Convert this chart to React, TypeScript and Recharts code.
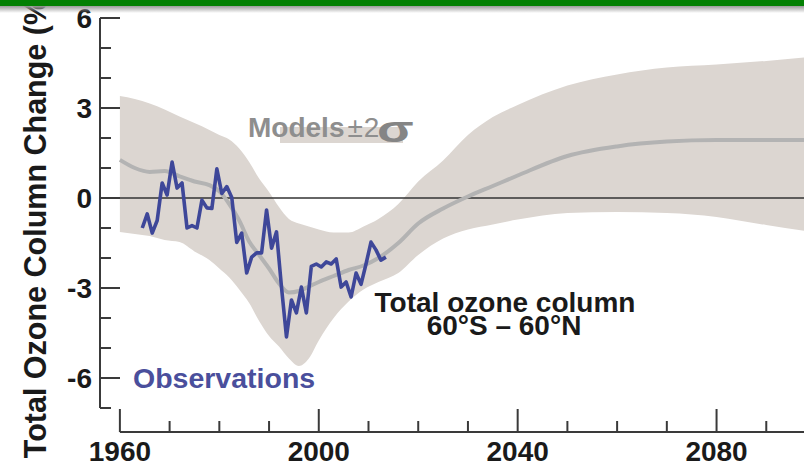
import React from "react";
import { Area, ComposedChart, Line, ReferenceLine, XAxis, YAxis } from "recharts";

// model ensemble: mean and +-2 sigma envelope (% change)
const modelYears = [1960, 1963, 1966, 1969, 1972, 1975, 1978, 1980, 1982, 1984, 1986, 1988, 1990, 1992, 1994, 1996, 1998, 2000, 2003, 2006, 2009, 2012, 2016, 2020, 2025, 2030, 2035, 2040, 2050, 2060, 2070, 2080, 2090, 2100];
const modelMean = [1.27, 1.0, 0.87, 0.9, 0.72, 0.55, 0.43, 0.22, -0.2, -0.75, -1.45, -1.9, -2.35, -2.85, -3.15, -3.1, -2.95, -2.8, -2.6, -2.4, -2.25, -2.0, -1.5, -0.85, -0.35, 0.05, 0.4, 0.75, 1.4, 1.72, 1.88, 1.93, 1.93, 1.93];
const modelLow = [-1.13, -1.2, -1.27, -1.4, -1.47, -1.78, -2.07, -2.35, -2.65, -3.05, -3.5, -4.1, -4.6, -4.95, -5.35, -5.6, -5.35, -4.75, -4.0, -3.45, -3.05, -2.8, -2.5, -1.9, -1.35, -1.05, -0.88, -0.72, -0.5, -0.47, -0.5, -0.63, -0.9, -1.15];
const modelHigh = [3.4, 3.3, 3.15, 2.95, 2.72, 2.5, 2.27, 2.1, 1.95, 1.65, 1.2, 0.65, 0.2, -0.3, -0.7, -0.85, -0.95, -1.05, -1.15, -1.15, -0.95, -0.7, -0.2, 0.55, 1.25, 2.1, 2.7, 3.1, 3.75, 4.12, 4.35, 4.45, 4.57, 4.72];

// annual observations
const obsYears = [1964, 1965, 1966, 1967, 1968, 1969, 1970, 1971, 1972, 1973, 1974, 1975, 1976, 1977, 1978, 1979, 1980, 1981, 1982, 1983, 1984, 1985, 1986, 1987, 1988, 1989, 1990, 1991, 1992, 1993, 1994, 1995, 1996, 1997, 1998, 1999, 2000, 2001, 2002, 2003, 2004, 2005, 2006, 2007, 2008, 2009, 2010, 2011, 2012, 2013];
const obsChange = [-1.0, -0.53, -1.17, -0.75, 0.5, 0.1, 1.2, 0.33, 0.5, -1.0, -0.92, -1.0, -0.07, -0.33, -0.35, 0.97, 0.15, 0.38, 0.02, -1.48, -1.17, -2.5, -1.97, -1.83, -1.83, -0.4, -1.67, -1.13, -2.97, -4.63, -3.4, -3.83, -2.97, -3.83, -2.28, -2.2, -2.3, -2.13, -2.2, -2.03, -2.97, -2.8, -3.3, -2.5, -2.88, -2.2, -1.47, -1.73, -2.07, -1.97];

const xTicks = [1960, 1970, 1980, 1990, 2000, 2010, 2020, 2030, 2040, 2050, 2060, 2070, 2080, 2090];
const xLabels = [1960, 2000, 2040, 2080];
const yTicks = [-7, -6, -5, -4, -3, -2, -1, 0, 1, 2, 3, 4, 5, 6];
const yLabels = [-6, -3, 0, 3, 6];

const modelData = modelYears.map((year, i) => ({ year, mean: modelMean[i], band: [modelLow[i], modelHigh[i]] }));
const obsData = obsYears.map((year, i) => ({ year: year + 0.5, value: obsChange[i] }));

const font = "'Liberation Sans', Arial, Helvetica, sans-serif";
const axisColor = "#3a3a3a";

const XTick = ({ x, y, payload }: any) => {
  const major = xLabels.includes(payload.value);
  return (
    <g>
      <line x1={x} x2={x} y1={y} y2={y - (major ? 23 : 11)} stroke={axisColor} strokeWidth={2} />
      {major && (
        <text x={x} y={y + 29} textAnchor="middle" fontFamily={font} fontWeight="bold" fontSize={28} fill="#1a1a1a">
          {payload.value}
        </text>
      )}
    </g>
  );
};

const YTick = ({ x, y, payload }: any) => {
  const major = yLabels.includes(payload.value);
  return (
    <g>
      <line x1={x} x2={x + (major ? 20 : 11)} y1={y} y2={y} stroke={axisColor} strokeWidth={2} />
      {major && (
        <text x={x - 8} y={y + 10} textAnchor="end" fontFamily={font} fontWeight="bold" fontSize={28} fill="#1a1a1a">
          {payload.value}
        </text>
      )}
    </g>
  );
};

export default function App() {
  return (
    <div style={{ position: "absolute", left: 0, top: 0, width: 804, height: 465, overflow: "hidden", background: "#fff" }}>
      <ComposedChart width={816} height={465} margin={{ top: 18, right: 0, bottom: 0, left: 0 }}>
        <XAxis
          type="number"
          dataKey="year"
          domain={[1956, 2100]}
          allowDataOverflow
          ticks={xTicks}
          interval={0}
          height={33}
          axisLine={false}
          tickLine={false}
          tickSize={0}
          tickMargin={0}
          tick={(p: any) => <XTick {...p} />}
        />
        <YAxis
          type="number"
          domain={[-7.8, 6]}
          allowDataOverflow
          ticks={yTicks}
          interval={0}
          width={100}
          axisLine={false}
          tickLine={false}
          tickSize={0}
          tickMargin={0}
          tick={(p: any) => <YTick {...p} />}
        />
        <Area data={modelData} dataKey="band" type="monotone" stroke="none" fill="#dcd6d1" fillOpacity={1} isAnimationActive={false} />
        <ReferenceLine y={0} stroke="#333" strokeWidth={1.6} />
        <Line data={modelData} dataKey="mean" type="monotone" stroke="#b3b3b3" strokeWidth={4} dot={false} isAnimationActive={false} />
        <Line data={obsData} dataKey="value" type="linear" stroke="#3e4799" strokeWidth={3.6} strokeLinejoin="round" dot={false} isAnimationActive={false} />
        <ReferenceLine segment={[{ x: 1956, y: -7 }, { x: 1956, y: 6 }]} stroke={axisColor} strokeWidth={2} ifOverflow="visible" />
        <ReferenceLine segment={[{ x: 1960, y: -7.8 }, { x: 2100, y: -7.8 }]} stroke={axisColor} strokeWidth={2} ifOverflow="visible" />
      </ComposedChart>

      <svg width={804} height={465} style={{ position: "absolute", left: 0, top: 0, pointerEvents: "none" }}>
        <text transform="translate(46,223) rotate(-90)" textAnchor="middle" fontFamily={font} fontWeight="bold" fontSize={30.5} fill="#1a1a1a">
          Total Ozone Column Change (%)
        </text>
        <rect x={280} y={127} width={123} height={16} fill="#dcd6d1" />
        <text x={248} y={137} fontFamily={font} fontSize={28} fill="#8e8e8e">
          <tspan fontWeight="bold">Models</tspan>
          <tspan dx={3}>±</tspan>
          <tspan dx={1}>2</tspan>
        </text>
        <text transform="translate(377,142) scale(1.45,1)" fontFamily={font} fontWeight="bold" fontSize={37} fill="#858585">
          σ
        </text>
        <text x={133} y={388} fontFamily={font} fontWeight="bold" fontSize={28.5} fill="#4a4f9c">
          Observations
        </text>
        <text x={505} y={312} textAnchor="middle" fontFamily={font} fontWeight="bold" fontSize={28} fill="#1a1a1a">
          Total ozone column
        </text>
        <text x={504} y={335} textAnchor="middle" fontFamily={font} fontWeight="bold" fontSize={28} fill="#1a1a1a">
          60°S – 60°N
        </text>
      </svg>

      <div style={{ position: "absolute", left: 0, top: 0, width: 804, height: 6, background: "#038003" }} />
      <div style={{ position: "absolute", left: 0, top: 6, width: 804, height: 7, background: "linear-gradient(#9a9a9a, rgba(255,255,255,0))" }} />
    </div>
  );
}
